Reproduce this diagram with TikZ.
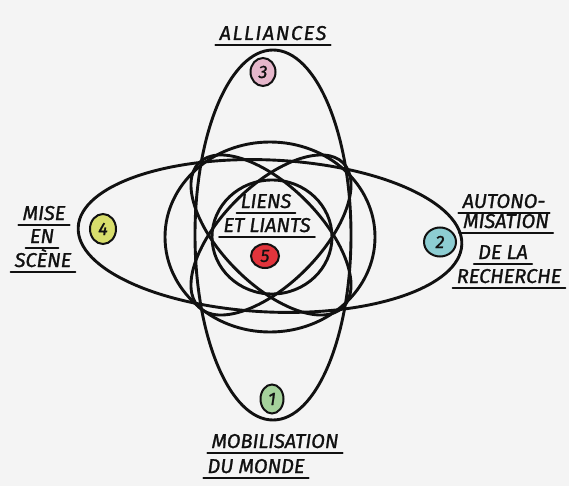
\documentclass[tikz,border=0pt]{standalone}
\usepackage{fontspec}
\setmainfont{Fira Sans}
\usetikzlibrary{shapes.geometric}
\definecolor{bg}{HTML}{F4F4F4}
\definecolor{ink}{HTML}{111111}
\definecolor{cpink}{HTML}{E6B7CB}
\definecolor{cyell}{HTML}{D8DE6C}
\definecolor{ccyan}{HTML}{8DCDD2}
\definecolor{cred}{HTML}{E2343C}
\definecolor{cgreen}{HTML}{A5D29C}
\begin{document}
\begin{tikzpicture}[x=1pt,y=-1pt,
  loopline/.style={line width=2.9pt, draw=ink},
  ul/.style={line width=2pt, draw=ink, line cap=round},
  lbl/.style={inner sep=0pt, anchor=base, text=ink, font=\fontsize{20}{22}\selectfont\itshape\addfontfeature{FakeBold=1.2}},
  badge/.style={ellipse, draw=ink, line width=2pt, inner sep=0pt, minimum width=24pt, minimum height=28pt, text=ink, font=\fontsize{18}{19}\selectfont\itshape\addfontfeature{FakeBold=1.2}}]
\fill[bg] (0,0) rectangle (569,486);
\useasboundingbox (0,0) rectangle (569,486);

% loops
\draw[loopline] (273,235) ellipse [x radius=78, y radius=185];
\draw[loopline, rotate around={-2.6:(270,236)}] (270,236) ellipse [x radius=192, y radius=76];
\draw[loopline] (270,237) ellipse [x radius=105, y radius=95];
\draw[loopline, rotate around={45:(271,235)}] (271,235) ellipse [x radius=102, y radius=49];
\draw[loopline, rotate around={-45:(271,235)}] (271,235) ellipse [x radius=102, y radius=49];
\draw[loopline] (272,237) ellipse [x radius=60, y radius=57];

% badges
\node[badge, fill=cpink, minimum width=25pt, minimum height=28pt] (b3) at (263,72) {3};
\node[badge, fill=cyell, minimum width=26pt, minimum height=30pt] (b4) at (103,229) {4};
\node[badge, fill=ccyan, minimum width=32pt, minimum height=29pt] (b2) at (440,242) {2};
\node[badge, fill=cred, minimum width=28pt, minimum height=24pt] (b5) at (265,256) {5};
\node[badge, fill=cgreen, minimum width=23pt, minimum height=29pt] (b1) at (272,399) {1};

% labels
\node[lbl, font=\fontsize{20}{22}\selectfont\itshape\addfontfeature{FakeBold=1.2,LetterSpace=8}] (alliances) at (273,40) {ALLIANCES};
\node[lbl] (mise) at (44,220) {MISE};
\node[lbl] (en) at (42,243) {EN};
\node[lbl] (scene) at (43,267) {SCÈNE};
\node[lbl] (auto) at (504,208) {AUTONO-};
\node[lbl] (misation) at (506,228) {MISATION};
\node[lbl] (dela) at (503,259) {DE LA};
\node[lbl] (recherche) at (509,283) {RECHERCHE};
\node[lbl] (liens) at (266,208) {LIENS};
\node[lbl] (etliants) at (267,232) {ET LIANTS};
\node[lbl] (mobil) at (275,448) {MOBILISATION};
\node[lbl] (dumonde) at (256,473) {DU MONDE};

% underlines
\foreach \n in {alliances,mise,en,scene,auto,misation,dela,recherche,liens,etliants,mobil,dumonde}{
  \draw[ul] ([shift={(-4,5)}]\n.base west) -- ([shift={(4,5)}]\n.base east);
}
\end{tikzpicture}
\end{document}
